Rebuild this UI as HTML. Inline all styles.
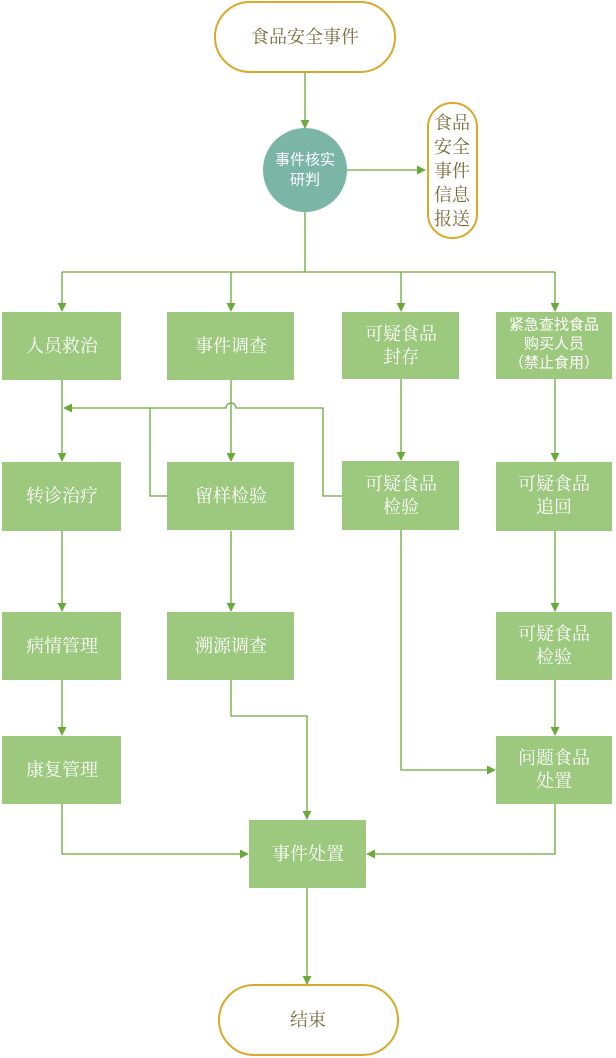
<!DOCTYPE html>
<html><head><meta charset="utf-8"><style>
html,body{margin:0;padding:0;background:#fff;}
svg{display:block;}
text{font-family:"Liberation Serif","Noto Serif CJK SC","Noto Sans CJK SC",serif;fill:#fff;text-anchor:middle;dominant-baseline:central;}
.s{font-family:"Liberation Sans","Noto Sans CJK SC",sans-serif;}
.b{fill:#9dc97f;}
.l{stroke:#6aaa3a;stroke-width:1.3;fill:none;}
.o{fill:#fff;stroke:#d9a92b;stroke-width:2;}
.d{fill:#7a6a3a;}
</style></head><body>
<svg width="616" height="1058" viewBox="0 0 616 1058">
<defs><marker id="a" viewBox="0 0 10 10" refX="9" refY="5" markerWidth="9" markerHeight="9" markerUnits="userSpaceOnUse" orient="auto"><path d="M0,0L10,5L0,10z" fill="#6aaa3a"/></marker></defs>
<!-- connectors -->
<g class="l">
<path d="M305,72V128" marker-end="url(#a)"/>
<path d="M347,170H425" marker-end="url(#a)"/>
<path d="M305,212V272M62,272H555"/>
<path d="M62,272V311" marker-end="url(#a)"/>
<path d="M231,272V311" marker-end="url(#a)"/>
<path d="M401,272V311" marker-end="url(#a)"/>
<path d="M555,272V311" marker-end="url(#a)"/>
<path d="M62,380V461" marker-end="url(#a)"/>
<path d="M231,380V461" marker-end="url(#a)"/>
<path d="M401,379V460" marker-end="url(#a)"/>
<path d="M555,379V461" marker-end="url(#a)"/>
<path d="M167,496H150V408H64" marker-end="url(#a)"/>
<path d="M342,496H323V408H236A5,5 0 0 0 226,408H150"/>
<path d="M62,531V611" marker-end="url(#a)"/>
<path d="M231,531V611" marker-end="url(#a)"/>
<path d="M555,531V611" marker-end="url(#a)"/>
<path d="M62,680V735" marker-end="url(#a)"/>
<path d="M555,680V735" marker-end="url(#a)"/>
<path d="M231,680V716H307V819" marker-end="url(#a)"/>
<path d="M401,530V770H495" marker-end="url(#a)"/>
<path d="M62,804V854H248" marker-end="url(#a)"/>
<path d="M555,804V854H367" marker-end="url(#a)"/>
<path d="M307,888V984" marker-end="url(#a)"/>
</g>
<!-- terminals -->
<rect class="o" x="215" y="2" width="180" height="70" rx="35"/>
<text class="d" x="305" y="37" font-size="18">食品安全事件</text>
<circle cx="305" cy="170" r="42" fill="#7ab5a6"/>
<text class="s" x="305" y="160" font-size="15">事件核实</text>
<text class="s" x="305" y="180" font-size="15">研判</text>
<rect class="o" x="428" y="103" width="49" height="135" rx="24"/>
<g font-size="18"><text class="d" x="452" y="123">食品</text><text class="d" x="452" y="147">安全</text><text class="d" x="452" y="171">事件</text><text class="d" x="452" y="195">信息</text><text class="d" x="452" y="219">报送</text></g>
<rect class="o" x="219" y="985" width="179" height="70" rx="35"/>
<text class="d" x="308" y="1020" font-size="18">结束</text>
<!-- boxes -->
<g font-size="18">
<rect class="b" x="2" y="312" width="119" height="68"/><text x="62" y="346">人员救治</text>
<rect class="b" x="167" y="312" width="127" height="68"/><text x="231" y="346">事件调查</text>
<rect class="b" x="342" y="312" width="117" height="67"/><text x="401" y="334">可疑食品</text><text x="401" y="357">封存</text>
<rect class="b" x="496" y="312" width="116" height="67"/>
<text class="s" x="554" y="325" font-size="15">紧急查找食品</text><text class="s" x="554" y="344" font-size="15">购买人员</text><text class="s" x="554" y="363" font-size="15">（禁止食用）</text>
<rect class="b" x="2" y="462" width="119" height="69"/><text x="62" y="496">转诊治疗</text>
<rect class="b" x="167" y="462" width="127" height="68"/><text x="231" y="496">留样检验</text>
<rect class="b" x="342" y="461" width="117" height="69"/><text x="401" y="484">可疑食品</text><text x="401" y="507">检验</text>
<rect class="b" x="496" y="462" width="116" height="69"/><text x="554" y="484">可疑食品</text><text x="554" y="507">追回</text>
<rect class="b" x="2" y="612" width="119" height="68"/><text x="62" y="646">病情管理</text>
<rect class="b" x="167" y="612" width="127" height="68"/><text x="231" y="646">溯源调查</text>
<rect class="b" x="496" y="612" width="116" height="68"/><text x="554" y="634">可疑食品</text><text x="554" y="657">检验</text>
<rect class="b" x="2" y="736" width="119" height="68"/><text x="62" y="770">康复管理</text>
<rect class="b" x="496" y="736" width="116" height="68"/><text x="554" y="758">问题食品</text><text x="554" y="781">处置</text>
<rect class="b" x="249" y="820" width="117" height="68"/><text x="308" y="854">事件处置</text>
</g>
</svg>
</body></html>
